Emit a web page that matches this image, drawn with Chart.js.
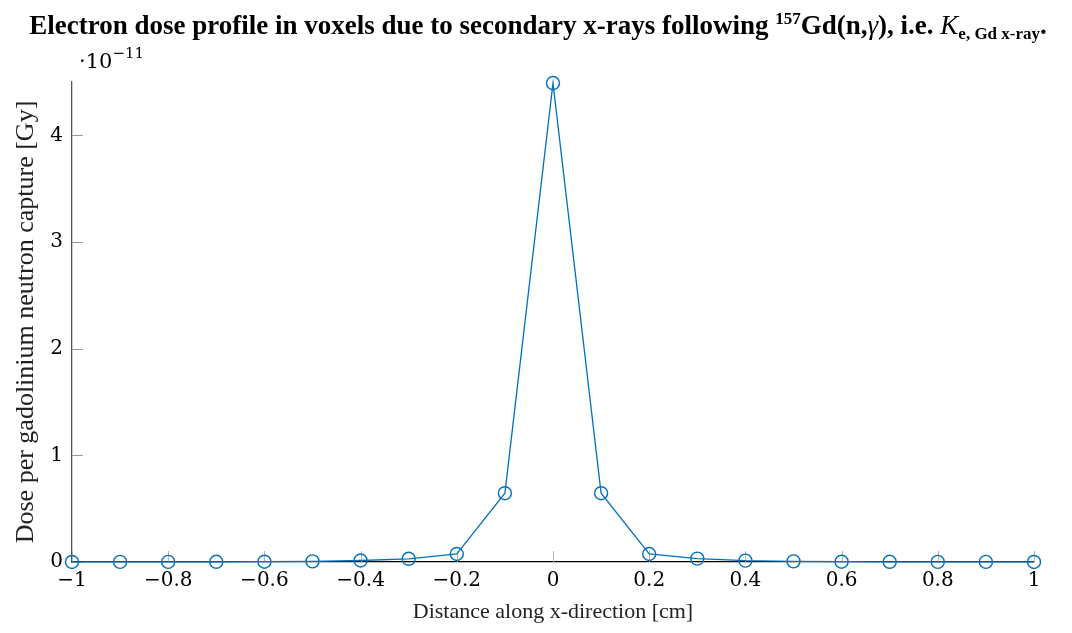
<!DOCTYPE html>
<html lang="en">
<head>
<meta charset="UTF-8" />
<title>Electron dose profile</title>
<script src="https://cdn.jsdelivr.net/npm/chart.js"></script>
<style>
  body { margin: 0; background: #fff; }
  #wrap { width: 1072px; height: 633px; }
</style>
</head>
<body>
<div id="wrap"><canvas id="doseChart"></canvas></div>
<script>
// distance along x [cm]
const distance = [-1, -0.9, -0.8, -0.7, -0.6, -0.5, -0.4, -0.3, -0.2, -0.1, 0,
                  0.1, 0.2, 0.3, 0.4, 0.5, 0.6, 0.7, 0.8, 0.9, 1];
// dose per capture, in units of 1e-11 Gy
const dose = [0.0005, 0.001, 0.0015, 0.002, 0.003, 0.006, 0.014, 0.03, 0.075, 0.645, 4.49,
              0.645, 0.075, 0.032, 0.013, 0.006, 0.003, 0.002, 0.0015, 0.001, 0.0005];
const xTicks = [-1, -0.8, -0.6, -0.4, -0.2, 0, 0.2, 0.4, 0.6, 0.8, 1];
const yTicks = [0, 1, 2, 3, 4];

const SERIF = "'Liberation Serif', serif";
const NUM = "'DejaVu Serif', serif";
const BLUE = '#0072bd';

function fmt(v) {
  const r = Math.round(v * 10) / 10;
  return r < 0 ? '\u2212' + Math.abs(r) : String(r);
}

// title with super/subscripts and the exponent note above the y axis
const textPlugin = {
  id: 'textPlugin',
  afterDraw(chart) {
    const c = chart.ctx;
    const parts = [
      { t: 'Electron dose profile in voxels due to secondary x-rays following ', f: 'bold 27px', dy: 0 },
      { t: '157', f: 'bold 17px', dy: -10 },
      { t: 'Gd(n,', f: 'bold 27px', dy: 0 },
      { t: '\u03b3', f: 'italic 27px', dy: 0 },
      { t: '), i.e. ', f: 'bold 27px', dy: 0 },
      { t: 'K', f: 'italic 27px', dy: 0 },
      { t: 'e, Gd x-ray', f: 'bold 17px', dy: 5 },
      { t: '.', f: 'bold 27px', dy: 0 }
    ];
    c.save();
    c.fillStyle = '#000';
    c.textBaseline = 'alphabetic';
    let total = 0;
    parts.forEach(p => { c.font = p.f + ' ' + SERIF; p.w = c.measureText(p.t).width; total += p.w; });
    let x = 538 - total / 2;
    parts.forEach(p => {
      c.font = p.f + ' ' + SERIF;
      c.fillText(p.t, x, 34 + p.dy);
      x += p.w;
    });

    c.font = '21px ' + NUM;
    c.fillText('\u00b710', 79, 68);
    const w = c.measureText('\u00b710').width;
    c.font = '15px ' + NUM;
    c.fillText('\u221211', 79 + w, 58);
    c.restore();
  }
};

// short tick marks pointing into the plot
const innerTicks = {
  id: 'innerTicks',
  beforeDatasetsDraw(chart) {
    const c = chart.ctx;
    const { x, y } = chart.scales;
    const a = chart.chartArea;
    c.save();
    c.lineWidth = 1;
    c.strokeStyle = '#b4b4b4';
    xTicks.forEach(v => {
      const px = Math.round(x.getPixelForValue(v)) + 0.5;
      c.beginPath(); c.moveTo(px, a.bottom); c.lineTo(px, a.bottom - 11); c.stroke();
    });
    c.strokeStyle = '#999';
    yTicks.forEach(v => {
      const py = Math.round(y.getPixelForValue(v)) + 0.5;
      c.beginPath(); c.moveTo(a.left, py); c.lineTo(a.left + 11, py); c.stroke();
    });
    c.restore();
  }
};

new Chart(document.getElementById('doseChart'), {
  type: 'scatter',
  data: {
    datasets: [{
      data: distance.map((d, i) => ({ x: d, y: dose[i] })),
      showLine: true,
      clip: false,
      borderColor: BLUE,
      borderWidth: 1.3,
      tension: 0,
      pointStyle: 'circle',
      pointRadius: 6.5,
      pointBorderWidth: 1.4,
      pointBorderColor: BLUE,
      pointBackgroundColor: 'rgba(0,0,0,0)'
    }]
  },
  options: {
    responsive: true,
    maintainAspectRatio: false,
    animation: false,
    layout: { padding: { top: 82, right: 38, left: 0, bottom: 0 } },
    plugins: {
      legend: { display: false },
      tooltip: { enabled: false }
    },
    scales: {
      x: {
        type: 'linear',
        min: -1, max: 1,
        afterBuildTicks: s => { s.ticks = xTicks.map(v => ({ value: v })); },
        afterFit: s => { s.height = 71; },
        grid: { drawOnChartArea: false, drawTicks: false },
        border: { display: true, color: '#000', width: 1.3 },
        ticks: {
          callback: v => fmt(v),
          color: '#000',
          padding: 7,
          maxRotation: 0,
          autoSkip: false,
          font: { family: NUM, size: 20 }
        },
        title: {
          display: true,
          text: 'Distance along x-direction [cm]',
          color: '#222',
          font: { family: SERIF, size: 22 },
          padding: { top: 4, bottom: 8 }
        }
      },
      y: {
        min: 0, max: 4.5,
        afterBuildTicks: s => { s.ticks = yTicks.map(v => ({ value: v })); },
        afterFit: s => { s.width = 72; },
        grid: { drawOnChartArea: false, drawTicks: false },
        border: { display: true, color: '#555', width: 1.3 },
        ticks: {
          callback: v => String(v),
          color: '#000',
          padding: 9,
          font: { family: NUM, size: 20 }
        },
        title: {
          display: true,
          text: 'Dose per gadolinium neutron capture [Gy]',
          color: '#222',
          font: { family: SERIF, size: 26 },
          padding: { top: 11, bottom: 4 }
        }
      }
    }
  },
  plugins: [textPlugin, innerTicks]
});
</script>
</body>
</html>
